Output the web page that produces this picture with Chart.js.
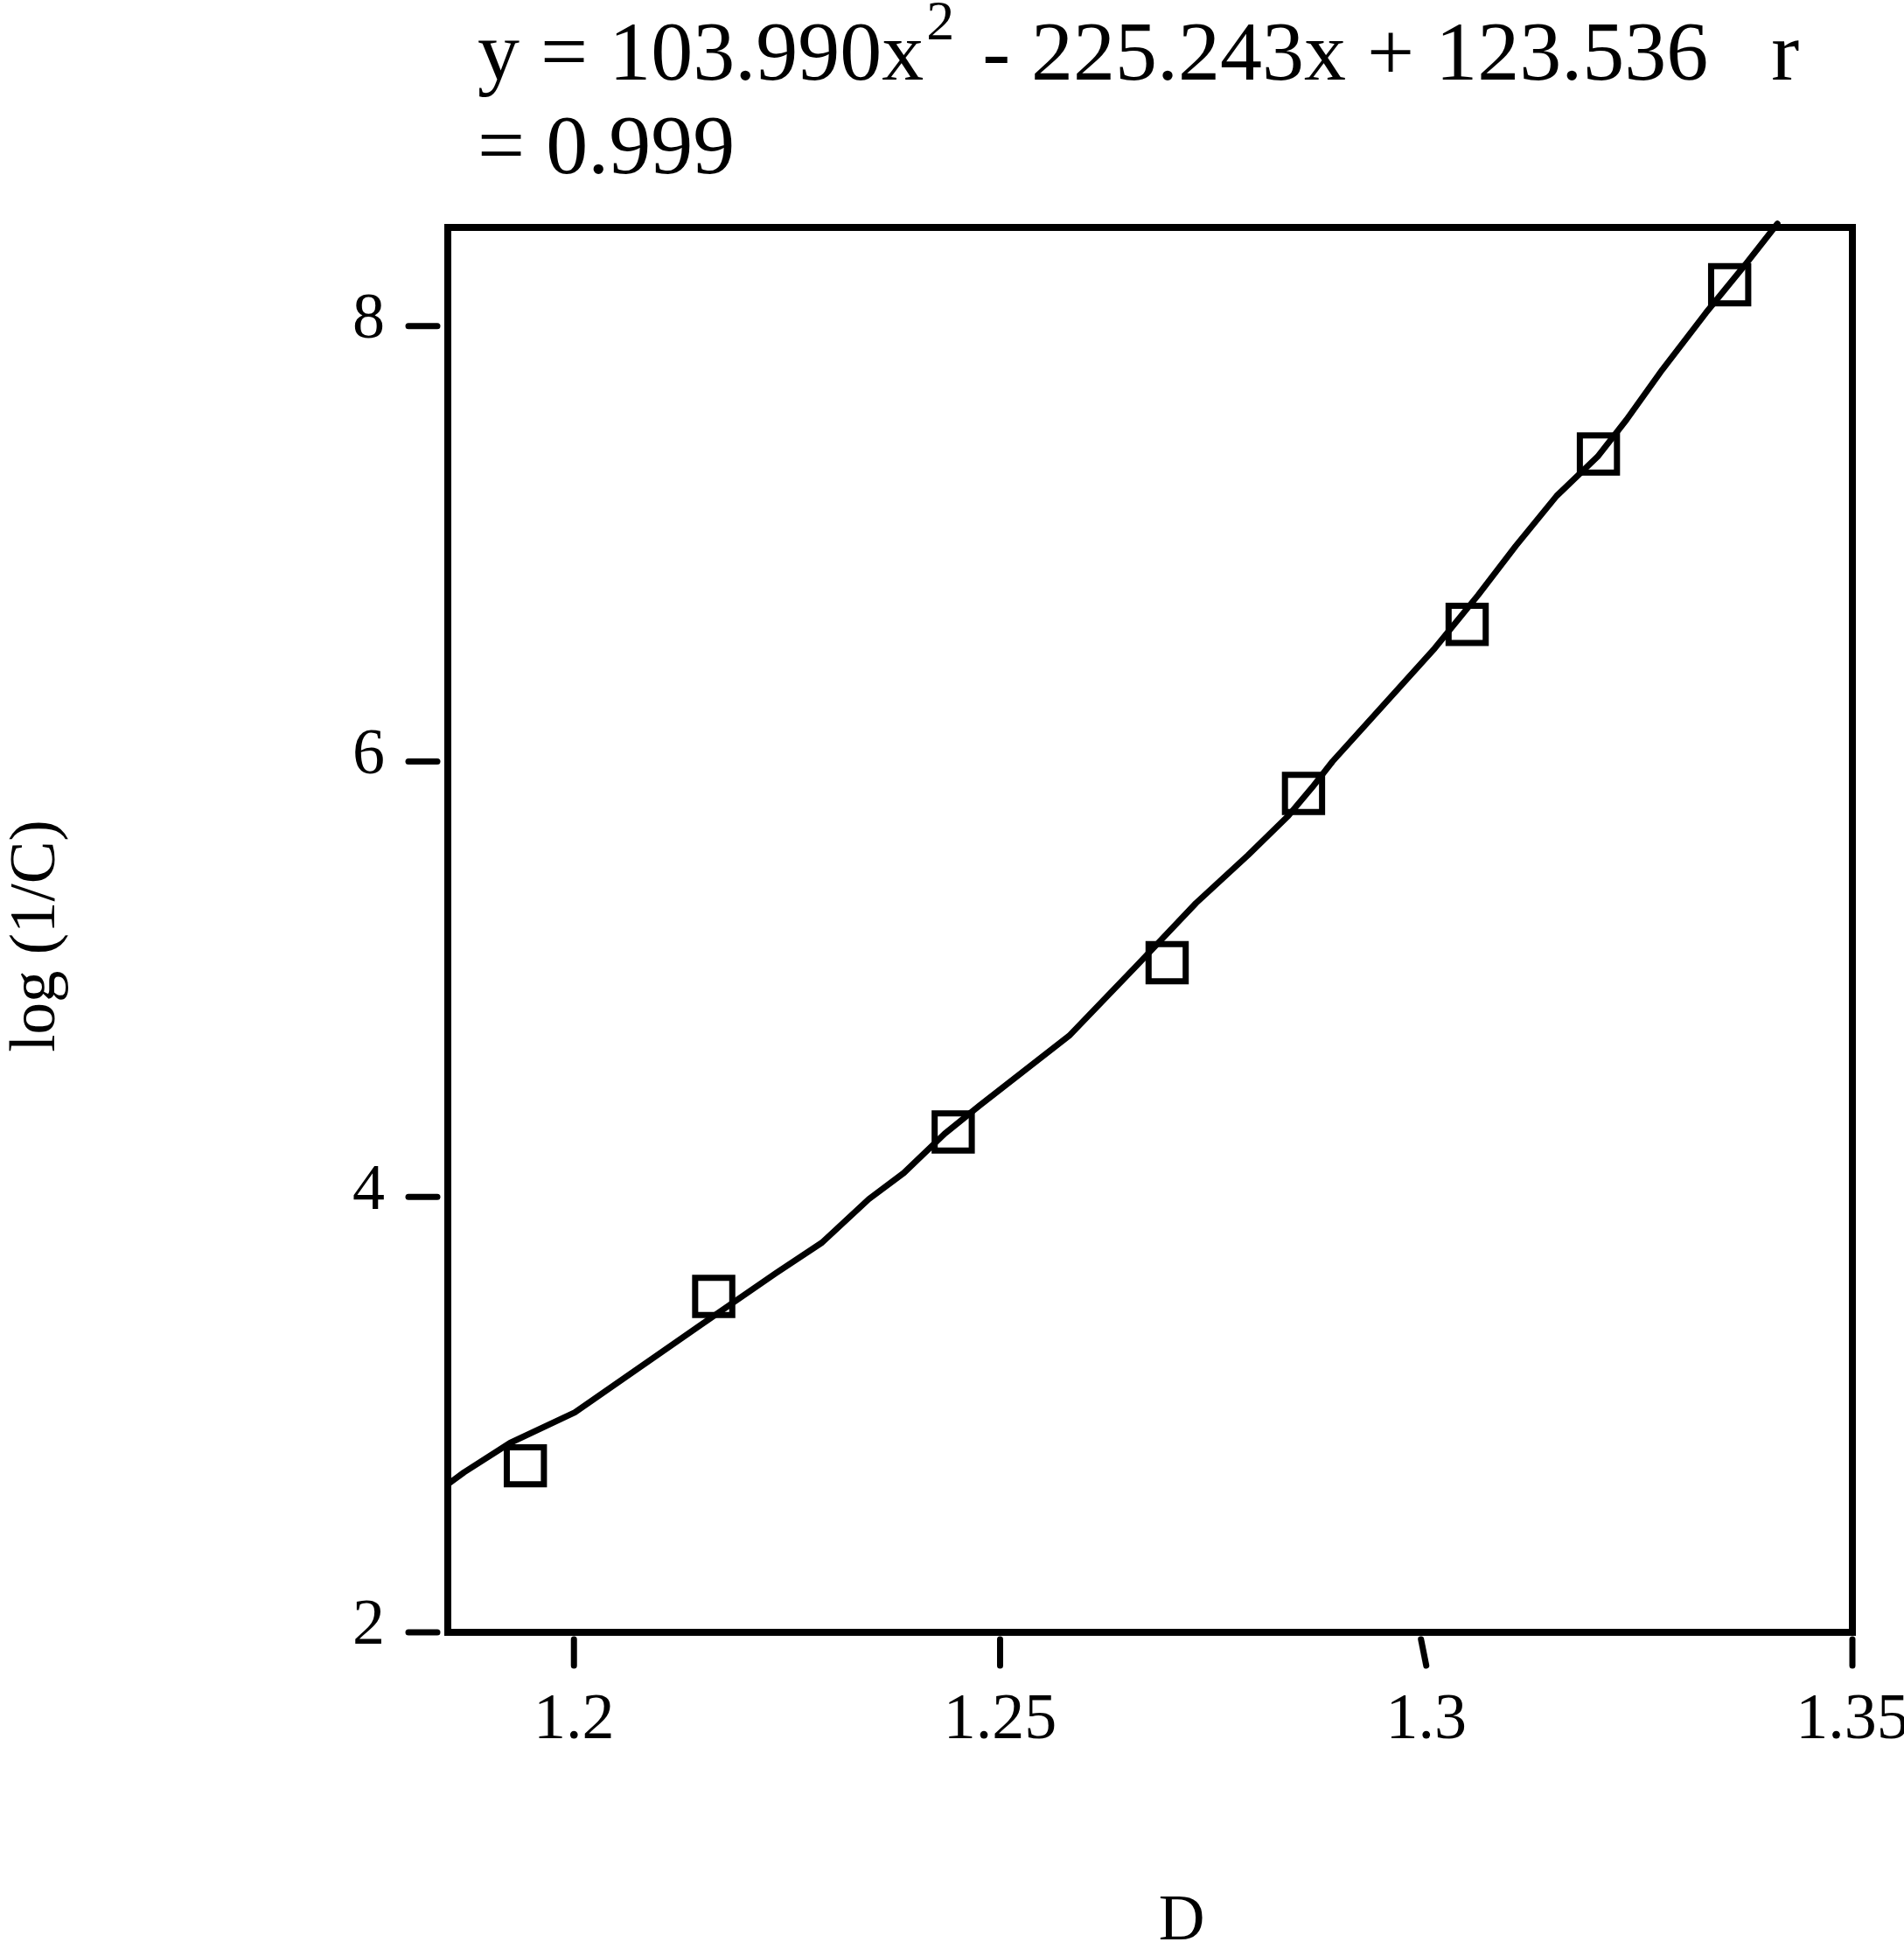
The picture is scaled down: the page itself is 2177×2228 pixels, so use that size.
<!DOCTYPE html>
<html><head><meta charset="utf-8">
<script src="https://cdn.jsdelivr.net/npm/chart.js@4.4.1/dist/chart.umd.min.js"></script>
<style>html,body{margin:0;padding:0;background:#fff;}canvas{display:block;}</style>
</head><body>
<canvas id="c" width="2177" height="2228"></canvas>
<script>
// ---- data ----
const pointD = [1.1943, 1.2164, 1.2445, 1.2696, 1.2856, 1.3048, 1.3202, 1.3356];
const pointLogInvC = [2.765, 3.543, 4.298, 5.076, 5.853, 6.630, 7.412, 8.190];
const fitD = [1.1852, 1.1871, 1.1925, 1.2001, 1.2093, 1.2148, 1.2237, 1.2291, 1.2346, 1.2387, 1.2435, 1.2476, 1.2581, 1.2661, 1.2730, 1.2791, 1.2838, 1.2866, 1.2890, 1.3010, 1.3061, 1.3105, 1.3153, 1.3201, 1.3235, 1.3277, 1.3328, 1.3376, 1.3412];
const fitLogInvC = [2.68, 2.735, 2.87, 3.01, 3.26, 3.41, 3.65, 3.79, 3.99, 4.11, 4.29, 4.42, 4.74, 5.065, 5.35, 5.57, 5.75, 5.88, 6.00, 6.52, 6.765, 6.99, 7.22, 7.40, 7.57, 7.80, 8.06, 8.29, 8.47];
const xTickValues = [1.2, 1.25, 1.3, 1.35];
const xTickLabels = ['1.2', '1.25', '1.3', '1.35'];
const yTickValues = [2, 4, 6, 8];
const yTickLabels = ['2', '4', '6', '8'];
const titleMain = 'y = 103.990x';
const titleSup = '2';
const titleRest = ' - 225.243x + 123.536   r';
const titleLine2 = '= 0.999';
const xAxisTitle = 'D';
const yAxisTitle = 'log (1/C)';

const FONT = '"Liberation Serif", "Times New Roman", serif';

const decorPlugin = {
  id: 'decor',
  beforeDatasetsDraw(chart) {
    const ctx = chart.ctx, a = chart.chartArea;
    const xs = chart.scales.x, ys = chart.scales.y;
    ctx.save();
    ctx.strokeStyle = '#000';
    ctx.lineWidth = 8;
    ctx.lineJoin = 'miter';
    ctx.strokeRect(a.left, a.top, a.right - a.left, a.bottom - a.top);
    // tick marks (detached from the axis line)
    ctx.lineWidth = 7;
    ctx.lineCap = 'round';
    const slant = {2: -6};
    xTickValues.forEach((v, i) => {
      const px = xs.getPixelForValue(v);
      const s = slant[i] || 0;
      ctx.beginPath();
      ctx.moveTo(px + s, a.bottom + 8);
      ctx.lineTo(px, a.bottom + 38);
      ctx.stroke();
    });
    yTickValues.forEach(v => {
      const py = ys.getPixelForValue(v);
      ctx.beginPath();
      ctx.moveTo(a.left - 45, py);
      ctx.lineTo(a.left - 12, py);
      ctx.stroke();
    });
    ctx.restore();
  },
  afterDraw(chart) {
    const ctx = chart.ctx;
    ctx.save();
    ctx.fillStyle = '#000';
    ctx.textBaseline = 'alphabetic';
    ctx.textAlign = 'left';
    // title (two lines, with superscript)
    let x = 546;
    ctx.font = '96px ' + FONT;
    ctx.fillText(titleMain, x, 91);
    x += ctx.measureText(titleMain).width + 3;
    ctx.font = '64px ' + FONT;
    ctx.fillText(titleSup, x, 45);
    x += ctx.measureText(titleSup).width + 8;
    ctx.font = '96px ' + FONT;
    ctx.fillText(titleRest, x, 91);
    ctx.fillText(titleLine2, 546, 198);
    // axis titles
    ctx.font = '73px ' + FONT;
    ctx.textAlign = 'center';
    ctx.fillText(xAxisTitle, 1351, 2217);
    ctx.translate(62, 1070);
    ctx.rotate(-Math.PI / 2);
    ctx.fillText(yAxisTitle, 0, 0);
    ctx.restore();
  }
};

new Chart(document.getElementById('c'), {
  type: 'scatter',
  data: {
    datasets: [
      {
        type: 'scatter',
        data: pointD.map((d, i) => ({x: d, y: pointLogInvC[i]})),
        pointStyle: 'rect',
        pointRadius: 30,
        pointHoverRadius: 30,
        borderColor: '#000',
        backgroundColor: 'rgba(0,0,0,0)',
        borderWidth: 7,
        pointBorderWidth: 7
      },
      {
        type: 'line',
        data: fitD.map((d, i) => ({x: d, y: fitLogInvC[i]})),
        showLine: true,
        borderColor: '#000',
        borderWidth: 7,
        pointRadius: 0,
        tension: 0,
        fill: false,
        clip: 14,
        borderCapStyle: 'round',
        borderJoinStyle: 'round'
      }
    ]
  },
  options: {
    responsive: false,
    animation: false,
    devicePixelRatio: 1,
    events: [],
    layout: {padding: {left: 0, top: 260, right: 59, bottom: 0}},
    plugins: {legend: {display: false}, tooltip: {enabled: false}, title: {display: false}},
    scales: {
      x: {
        type: 'linear', min: 1.1852, max: 1.35,
        grid: {display: false, drawTicks: false, tickLength: 0},
        border: {display: false},
        afterBuildTicks: s => { s.ticks = xTickValues.map(v => ({value: v})); },
        afterFit: s => { s.height = 362; s.paddingLeft = 0; s.paddingRight = 0; },
        ticks: {
          autoSkip: false, maxRotation: 0, minRotation: 0, padding: 57, color: '#000',
          font: {family: FONT, size: 74},
          callback: (v, i) => xTickLabels[i]
        }
      },
      y: {
        type: 'linear', min: 2, max: 8.453,
        grid: {display: false, drawTicks: false, tickLength: 0},
        border: {display: false},
        afterBuildTicks: s => { s.ticks = yTickValues.map(v => ({value: v})); },
        afterFit: s => { s.width = 512; s.paddingTop = 0; s.paddingBottom = 0; },
        ticks: {
          autoSkip: false, padding: 72, labelOffset: -6, color: '#000',
          font: {family: FONT, size: 74},
          callback: (v, i) => yTickLabels[i]
        }
      }
    }
  },
  plugins: [decorPlugin]
});
</script>
</body></html>
